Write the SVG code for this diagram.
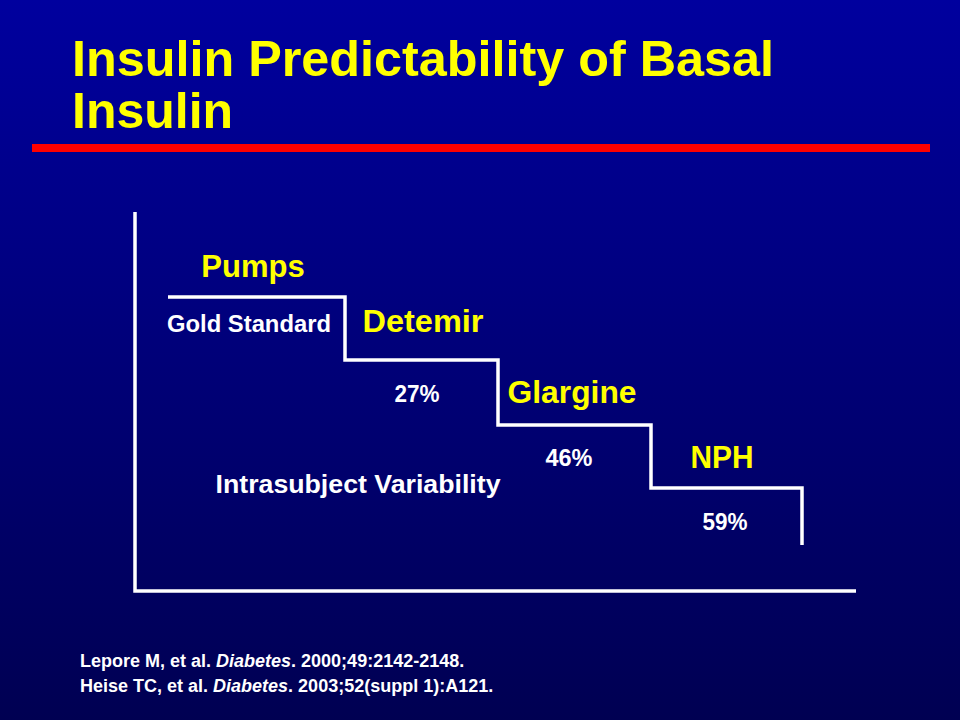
<svg xmlns="http://www.w3.org/2000/svg" width="960" height="720" viewBox="0 0 960 720">
<defs>
<linearGradient id="bg" x1="0" y1="0" x2="0" y2="1">
<stop offset="0" stop-color="#00009E"/>
<stop offset="1" stop-color="#000052"/>
</linearGradient>
<style>
.t{font-family:"Liberation Sans",Arial,sans-serif;font-weight:bold;font-size:50px;fill:#FFFF00}
.y{font-family:"Liberation Sans",Arial,sans-serif;font-weight:bold;font-size:31px;fill:#FFFF00}
.w{font-family:"Liberation Sans",Arial,sans-serif;font-weight:bold;font-size:23px;fill:#FFFFFF}
.r{font-family:"Liberation Sans",Arial,sans-serif;font-weight:bold;font-size:18px;fill:#FFFFFF}
.ln{stroke:#FFFFFF;stroke-width:3.5;fill:none}
</style>
</defs>
<rect width="960" height="720" fill="url(#bg)"/>
<g id="title">
<text class="t" x="72" y="76" textLength="702" lengthAdjust="spacingAndGlyphs">Insulin Predictability of Basal</text>
<text class="t" x="72" y="128">Insulin</text>
<rect x="32" y="144" width="898" height="8" fill="#FF0000"/>
</g>
<g id="connectors">
<path class="ln" d="M135,212 V591 H856"/>
<path class="ln" d="M168,297 H345 V360 H498 V425 H651 V488 H802 V545"/>
</g>
<g id="pumps">
<text class="y" x="253" y="277" text-anchor="middle">Pumps</text>
<text class="w" x="249" y="332" text-anchor="middle" textLength="164" lengthAdjust="spacingAndGlyphs">Gold Standard</text>
</g>
<g id="detemir">
<text class="y" x="423" y="332" text-anchor="middle" textLength="121" lengthAdjust="spacingAndGlyphs">Detemir</text>
<text class="w" x="417" y="402" text-anchor="middle" textLength="45" lengthAdjust="spacingAndGlyphs">27%</text>
</g>
<g id="glargine">
<text class="y" x="572" y="403" text-anchor="middle" textLength="129" lengthAdjust="spacingAndGlyphs">Glargine</text>
<text class="w" x="569" y="466" text-anchor="middle" textLength="47" lengthAdjust="spacingAndGlyphs">46%</text>
</g>
<g id="nph">
<text class="y" x="722" y="468" text-anchor="middle" textLength="63" lengthAdjust="spacingAndGlyphs">NPH</text>
<text class="w" x="725" y="530" text-anchor="middle" textLength="45" lengthAdjust="spacingAndGlyphs">59%</text>
</g>
<g id="axislabel">
<text class="w" x="358" y="493" text-anchor="middle" style="font-size:25px" textLength="285" lengthAdjust="spacingAndGlyphs">Intrasubject Variability</text>
</g>
<g id="refs">
<text class="r" x="80" y="667">Lepore M, et al. <tspan font-style="italic">Diabetes</tspan>. 2000;49:2142-2148.</text>
<text class="r" x="80" y="692">Heise TC, et al. <tspan font-style="italic">Diabetes</tspan>. 2003;52(suppl 1):A121.</text>
</g>
</svg>
